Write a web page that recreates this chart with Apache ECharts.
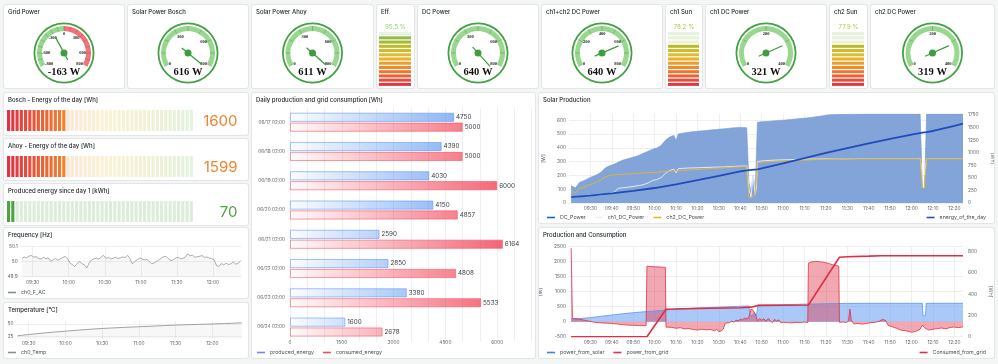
<!DOCTYPE html>
<html>
<head>
<meta charset="utf-8">
<title>Solar dashboard</title>
<script src="https://cdn.jsdelivr.net/npm/echarts@6/dist/echarts.min.js"></script>
<style>
html,body{margin:0;padding:0;}
body{width:998px;height:364px;background:#f4f5f5;position:relative;overflow:hidden;}
.panel{position:absolute;background:#ffffff;box-shadow:0 0 0 1px #e4e5e7;border-radius:2px;}
</style>
</head>
<body>
<script>
// ================= DATA =================
// Gauges
const gaugeTitles = ['Grid Power', 'Solar Power Bosch', 'Solar Power Ahoy', 'DC Power', 'ch1+ch2 DC Power', 'ch1 DC Power', 'ch2 DC Power'];
const gaugeValues = [-163, 616, 611, 640, 640, 321, 319];
const gaugeMin = [-800, 0, 0, 0, 0, 0, 0];
const gaugeMax = [800, 800, 800, 800, 800, 400, 400];
const gaugeNeedleMax = [800, 640, 630, 645, 866, 436, 434];
const gaugeRedFrom = [0, null, null, null, null, null, null];
const gaugeTickLabels = [
  [-800, -600, -300, 0, 300, 600, 800],
  [0, 300, 600, 800], [0, 300, 600, 800], [0, 300, 600, 800],
  [0, 200, 400, 600, 800], [0, 200, 400], [0, 200, 400]
];
// Vertical LCD gauges
const sunTitles = ['Eff.', 'ch1 Sun', 'ch2 Sun'];
const sunValues = [95.5, 78.2, 77.9];
const sunMax = 100;
// Horizontal LCD gauges
const energyTitles = ['Bosch - Energy of the day [Wh]', 'Ahoy - Energy of the day [Wh]', 'Produced energy since day 1 [kWh]'];
const energyValues = [1600, 1599, 70];
const energyMax = [5000, 5000, 1500];
// Daily bars
const dayLabels = ['06/17 02:00', '06/18 02:00', '06/19 02:00', '06/20 02:00', '06/21 02:00', '06/22 02:00', '06/23 02:00', '06/24 02:00'];
const producedEnergy = [4750, 4390, 4030, 4150, 2590, 2850, 3380, 1600];
const consumedEnergy = [5000, 5000, 6000, 4857, 6164, 4808, 5533, 2678];
const barTickLabels = [0, 1500, 3000, 4500, 6000];
// Time ticks (minutes since midnight)
const timeTicks10 = [570, 580, 590, 600, 610, 620, 630, 640, 650, 660, 670, 680, 690, 700, 710, 720, 730, 740];
const timeTicks30 = [570, 600, 630, 660, 690, 720];
// Frequency (one sample every 2 minutes from 09:21)
const freqStart = 561, freqStep = 2;
const freqV = [
  50.022, 50.031, 50.027, 50.038, 50.041, 50.030, 50.034, 50.021, 50.018, 50.029,
  50.020, 50.025, 50.003, 50.012, 50.021, 50.010, 50.019, 50.028, 50.035, 50.022,
  49.992, 49.981, 49.968, 49.988, 50.001, 49.987, 49.979, 49.958, 49.992, 50.012,
  50.019, 50.024, 50.017, 50.031, 50.042, 50.021, 50.029, 50.018, 50.023, 50.030,
  50.021, 50.026, 50.032, 50.027, 50.043, 50.021, 49.986, 50.002, 50.014, 50.025,
  50.019, 50.012, 50.015, 50.003, 49.986, 49.991, 50.002, 50.011, 50.024, 50.033,
  50.036, 50.020, 50.008, 50.013, 50.024, 50.030, 50.019, 50.022, 50.031, 50.052,
  50.040, 50.043, 50.029, 50.034, 50.036, 50.041, 50.028, 50.032, 50.024, 50.021,
  50.013, 49.975, 49.968, 49.988, 49.979, 49.990, 49.981, 49.986, 49.999, 49.984,
  49.988, 50.008
];
const freqTicks = [49.9, 50, 50.1];
// Temperature
const tempT = [561, 570, 580, 590, 600, 610, 620, 630, 640, 650, 660, 670, 680, 690, 700, 710, 720, 730, 740, 744];
const tempV = [27.0, 29.3, 31.8, 34.0, 36.0, 37.9, 39.7, 41.3, 42.5, 43.6, 44.7, 45.8, 46.9, 48.0, 48.7, 49.4, 50.1, 51.0, 52.0, 52.4];
const tempTicks = [25, 50];
// Solar production
const solarT = [
  561, 563, 565, 567, 569, 571, 573, 575, 577, 579, 581, 583, 585, 587, 589, 591, 593, 595, 597, 599, 601, 603, 605, 607, 609,
  610, 611,
  613, 615, 617, 619, 621, 623, 625, 627, 629, 631, 633, 635, 637, 639, 641, 643,
  644, 645, 646, 647, 647.5, 648,
  650, 652, 654, 656, 658, 660, 662, 664, 666, 668, 670, 672, 674, 676, 678, 680, 682, 684,
  688, 692, 696, 700, 704, 708, 712, 716, 720, 724,
  724.5, 725, 726, 726.5, 727,
  730, 734, 738, 742, 744
];
const dcPower = [
  125, 110, 150, 162, 178, 192, 205, 222, 255, 270, 280, 296, 310, 318, 328, 336, 348, 362, 375, 390, 398, 416, 455, 478, 490,
  452, 500,
  506, 511, 515, 519, 521, 524, 527, 530, 533, 536, 539, 542, 545, 547, 548, 545,
  150, 80, 200, 105, 110, 585,
  589, 591, 593, 596, 598, 600, 603, 606, 609, 612, 615, 618, 622, 626, 631, 636, 640, 642,
  643, 644, 645, 645, 645, 645, 645, 645, 645, 645,
  645, 108, 108, 108, 645,
  645, 645, 645, 645, 645
];
const ch1Power = [
  42, 44, 47, 49, 51, 53, 55, 58, 62, 68, 78, 106, 110, 113, 118, 122, 127, 134, 146, 163, 170, 184, 214, 236, 245,
  218, 249,
  251, 253, 254, 255, 256, 257, 258, 259, 260, 261, 262, 264, 265, 267, 268, 269,
  108, 45, 199, 60, 108, 300,
  305, 307, 309, 311, 312, 313, 314, 315, 316, 317, 318, 318, 319, 319, 320, 321, 321, 321,
  320, 321, 322, 322, 322, 322, 322, 322, 322, 322,
  322, 204, 204, 204, 322,
  322, 322, 322, 322, 322
];
const ch2Power = [
  85, 72, 105, 115, 128, 140, 152, 168, 190, 200, 204, 206, 208, 210, 212, 214, 216, 218, 220, 222, 224, 226, 228, 230, 232,
  233, 234,
  236, 238, 240, 242, 244, 246, 248, 250, 252, 254, 256, 258, 260, 262, 264, 266,
  40, 36, 48, 58, 60, 292,
  296, 298, 300, 301, 302, 304, 305, 306, 307, 309, 310, 312, 314, 316, 318, 319, 320, 321,
  322, 322, 322, 322, 322, 322, 322, 322, 322, 322,
  322, 108, 108, 108, 322,
  322, 322, 322, 322, 322
];
const energyT = [561, 570, 580, 590, 600, 610, 620, 630, 640, 644, 648, 650, 660, 670, 680, 690, 700, 710, 720, 725, 727, 730, 740, 744];
const energyV = [115, 148, 190, 240, 298, 372, 455, 540, 628, 655, 668, 688, 790, 892, 995, 1092, 1185, 1275, 1362, 1398, 1408, 1432, 1535, 1580];
const solarLeftTicks = [0, 100, 200, 300, 400, 500, 600];
const solarRightTicks = [0, 250, 500, 750, 1000, 1250, 1500, 1750];
// Production and consumption
const pSolarT = [561, 565, 570, 575, 580, 585, 590, 595, 600, 605, 610, 615, 620, 625, 630, 635, 640,
  644, 644.5, 645.5, 646.5, 647.5, 648, 648.3,
  650, 655, 660, 665, 670, 675, 680, 685, 690, 700, 710, 720,
  725, 725.3, 726.5, 726.8, 730, 735, 740, 744];
const pSolarV = [90, 105, 135, 180, 222, 262, 300, 330, 356, 390, 420, 440, 460, 470, 485, 500, 515,
  522, 260, 180, 300, 200, 230, 552,
  556, 560, 567, 575, 585, 592, 600, 605, 610, 612, 613, 614,
  614, 200, 200, 614, 614, 614, 614, 614];
const pGridT = [
  561, 561.6, 565, 568, 570, 572, 575, 578, 580, 583,
  585, 587, 590, 593, 596, 596.4, 598, 600, 602, 605,
  605.3, 606, 608, 610, 612, 614, 616, 618, 620, 622,
  624, 626, 628, 629, 630, 631, 632, 633, 635, 636,
  637, 638, 639, 640, 641, 642, 643, 644, 645, 646,
  647, 647.5, 648, 649, 650, 651, 652, 653, 654, 655,
  656, 657, 658, 659, 660, 662, 664, 666, 668, 670,
  671.5, 671.8, 673, 675, 677, 679, 681, 683, 685, 686,
  686.3, 688, 689.5, 690.5, 691.2, 691.8, 693, 695, 697, 699,
  701, 703, 705, 706.5, 708, 709, 711, 713, 715, 717,
  719, 720, 722, 724, 725, 726, 728, 730, 732, 734,
  736, 738, 740, 742, 744
];
const pGridV = [
  2450, 110, 80, 40, 10, -20, -40, -50, -60, -80,
  -100, -110, -120, -130, -135, 1850, 1840, 1830, 1825, 1810,
  -180, -200, -190, -220, -200, -240, -230, -260, -280, -250,
  -270, -260, -300, -260, -330, -310, -250, -50, -30, 20,
  -20, 50, 30, 80, 60, 120, 100, 150, 420, 380,
  250, 160, 30, 100, 50, 100, 20, 110, 40, -30,
  80, 20, 60, -40, -20, -30, -40, -20, -30, -10,
  -30, 1950, 1990, 2010, 2000, 1980, 1950, 1900, 1870, 1850,
  -20, -10, -30, 30, 420, 50, -70, -60, -80, -60,
  -30, -20, 20, 80, 30, -120, -170, -220, -280, -300,
  -330, -355, -320, -250, -110, -200, -280, -250, -230, -210,
  -240, -190, -180, -200, -170
];
const consumedT = [561, 596.4, 605.3, 620, 640, 645, 648.5, 671.8, 686.3, 690, 700, 706, 744];
const consumedV = [0, 0, 258, 265, 272, 278, 295, 298, 748, 752, 758, 762, 762];
const prodLeftTicks = [-500, 0, 500, 1000, 1500, 2000, 2500];
const prodRightTicks = [0, 200, 400, 600, 800];

// ================= STYLE / HELPERS =================
const FONT = 'Inter, "Noto Sans", sans-serif';
const SERIF = '"Liberation Serif", "DejaVu Serif", serif';
const TXT = '#25292e', AX = '#61656a', GRID = '#ebebed';
const LCD_STOPS = [[0, [224, 47, 68]], [0.33, [242, 135, 46]], [0.55, [232, 190, 42]], [0.8, [168, 185, 47]], [1, [115, 191, 105]]];

function lcdColor(f, a) {
  let i = 0;
  while (i < LCD_STOPS.length - 2 && f > LCD_STOPS[i + 1][0]) i++;
  const [f0, c0] = LCD_STOPS[i], [f1, c1] = LCD_STOPS[i + 1];
  const t = Math.max(0, Math.min(1, (f - f0) / (f1 - f0)));
  const c = c0.map((v, j) => Math.round(v + (c1[j] - v) * t));
  return 'rgba(' + c[0] + ',' + c[1] + ',' + c[2] + ',' + a + ')';
}
const greenLcd = (f, a) => 'rgba(79,163,69,' + a + ')';
const hm = v => String(Math.floor(v / 60)).padStart(2, '0') + ':' + String(Math.round(v % 60)).padStart(2, '0');
const zip = (a, b) => a.map((t, i) => [t, b[i]]);
const plain = v => String(+(+v).toFixed(2));

function mkChart(x, y, w, h) {
  const d = document.createElement('div');
  d.className = 'panel';
  d.style.left = x + 'px'; d.style.top = y + 'px';
  d.style.width = w + 'px'; d.style.height = h + 'px';
  document.body.appendChild(d);
  return echarts.init(d, null, {renderer: 'canvas', width: w, height: h});
}
function titleOf(text) {
  return {text: text, left: 4, top: 4, padding: 0,
    textStyle: {fontSize: 6, fontWeight: 500, color: TXT, fontFamily: FONT}};
}
const legendText = {fontSize: 5.3, color: '#4a4e53', fontFamily: FONT};
function legendOf(names, side, extra) {
  return Object.assign({data: names, icon: 'rect', itemWidth: 8, itemHeight: 1.6, itemGap: 9,
    padding: 0, bottom: 3, selectedMode: false, textStyle: legendText}, side, extra || {});
}
function axLabel(ticks, margin, fmt) {
  return {customValues: ticks, formatter: fmt || plain, fontSize: 4.8, color: AX, margin: margin, fontFamily: FONT};
}
function xTime(ticks) {
  return {type: 'value', min: 560, max: 744,
    axisLine: {show: false}, axisTick: {show: false, customValues: ticks},
    axisLabel: axLabel(ticks, 3, hm),
    splitLine: {show: true, lineStyle: {color: GRID, width: 0.8}}};
}
function yVal(ticks, margin, o) {
  return Object.assign({type: 'value', axisLine: {show: false},
    axisTick: {show: false, customValues: ticks},
    splitLine: {show: true, lineStyle: {color: GRID, width: 0.8}},
    axisLabel: axLabel(ticks, margin)}, o);
}
const axisName = {fontSize: 5, color: AX, fontFamily: FONT};

// ================= GAUGES =================
function gaugeOpt(i, w) {
  const min = gaugeMin[i], max = gaugeMax[i];
  const cx = w / 2, cy = 48;
  const labels = gaugeTickLabels[i];
  const red = gaugeRedFrom[i];
  const band = red == null ? [[1, '#97d78e']] : [[(red - min) / (max - min), '#97d78e'], [1, '#f4707d']];
  return {
    animation: false,
    title: titleOf(gaugeTitles[i]),
    series: [
      {type: 'gauge', center: [cx, cy], radius: 30.5, startAngle: 90, endAngle: -270, min: 0, max: 1, splitNumber: 1,
        axisLine: {lineStyle: {width: 1.8, color: [[1, '#45a145']]}},
        splitLine: {show: false}, axisTick: {show: false}, axisLabel: {show: false},
        pointer: {show: false}, anchor: {show: false}, progress: {show: false},
        title: {show: false}, detail: {show: false}, data: [{value: 0}]},
      {type: 'gauge', center: [cx, cy], radius: 27, startAngle: 210, endAngle: -30, min: min, max: max,
        splitNumber: Math.round((max - min) / 100),
        axisLine: {lineStyle: {width: 5, color: band}},
        splitLine: {show: true, length: 5, distance: -5, lineStyle: {color: 'rgba(46,120,46,0.45)', width: 0.7}},
        axisTick: {show: false},
        axisLabel: {show: true, distance: 5, fontSize: 4.5, fontWeight: 'bold', fontFamily: SERIF, color: '#222',
          formatter: v => labels.includes(Math.round(v)) ? String(Math.round(v)) : ''},
        pointer: {show: false}, anchor: {show: false}, title: {show: false},
        detail: {show: true, offsetCenter: [0, 19], formatter: '{value} W', fontSize: 10.5, fontWeight: 'bold',
          fontFamily: SERIF, color: '#111'},
        data: [{value: gaugeValues[i]}]},
      {type: 'gauge', center: [cx, cy], radius: 27, startAngle: 230, endAngle: -50, min: min, max: gaugeNeedleMax[i],
        axisLine: {show: false}, splitLine: {show: false}, axisTick: {show: false}, axisLabel: {show: false},
        title: {show: false}, detail: {show: false},
        pointer: {show: true, icon: 'rect', length: 26, width: 1.3, offsetCenter: [0, 8], itemStyle: {color: '#3f9c3f'}},
        anchor: {show: true, showAbove: true, size: 7, itemStyle: {color: '#3f9c3f'}},
        data: [{value: gaugeValues[i]}]}
    ]
  };
}

function sunOpt(k, w) {
  const v = sunValues[k], cells = 13, step = sunMax / cells;
  return {
    animation: false,
    title: titleOf(sunTitles[k]),
    grid: {left: 2, right: 3, top: 26.5, bottom: 1.5, outerBoundsMode: 'none'},
    xAxis: {type: 'value', min: 0, max: 1, show: false},
    yAxis: {type: 'value', min: 0, max: sunMax, show: false},
    graphic: [{type: 'text', x: w / 2, y: 21.7,
      style: {text: v.toFixed(1) + ' %', fontSize: 6.3, fill: lcdColor(v / sunMax, 0.85), fontFamily: FONT,
        align: 'center', verticalAlign: 'middle'}}],
    series: [{type: 'custom', silent: true,
      data: Array.from({length: cells}, (_, i) => [i]),
      renderItem: (p, api) => {
        const i = api.value(0);
        const a = api.coord([0, (i + 1) * step]);
        const b = api.coord([1, i * step]);
        const lit = (i + 0.5) * step < v;
        return {type: 'rect', shape: {x: a[0], y: a[1] + 0.6, width: b[0] - a[0], height: b[1] - a[1] - 1.2},
          style: {fill: lcdColor((i + 0.5) / cells, lit ? 1 : 0.2)}};
      }}]
  };
}

function energyOpt(k, w) {
  const v = energyValues[k], max = energyMax[k], cells = 44, step = max / cells;
  const colorFn = k === 2 ? greenLcd : lcdColor;
  return {
    animation: false,
    title: titleOf(energyTitles[k]),
    grid: {left: 3, right: 54, top: 17, height: 21, outerBoundsMode: 'none'},
    xAxis: {type: 'value', min: 0, max: max, show: false},
    yAxis: {type: 'value', min: 0, max: 1, show: false},
    graphic: [{type: 'text', x: w - 10.5, y: 28,
      style: {text: String(v), fontSize: 15, fill: colorFn(v / max, 1), fontFamily: FONT,
        align: 'right', verticalAlign: 'middle'}}],
    series: [{type: 'custom', silent: true,
      data: Array.from({length: cells}, (_, i) => [i]),
      renderItem: (p, api) => {
        const i = api.value(0);
        const a = api.coord([i * step, 1]);
        const b = api.coord([(i + 1) * step, 0]);
        const lit = (i + 0.5) * step < v;
        return {type: 'rect', shape: {x: a[0], y: a[1], width: b[0] - a[0] - 1.1, height: b[1] - a[1]},
          style: {fill: colorFn((i + 0.5) / cells, lit ? 1 : 0.2)}};
      }}]
  };
}

// ================= BUILD =================
const topRow = [['g', 0, 4, 120], ['g', 1, 128, 120], ['g', 2, 252, 121], ['s', 0, 377, 37], ['g', 3, 418, 120],
  ['g', 4, 542, 120], ['s', 1, 666, 36], ['g', 5, 706, 120], ['s', 2, 830, 37], ['g', 6, 871, 123]];
topRow.forEach(([t, k, x, w]) => {
  const c = mkChart(x, 5, w, 83);
  c.setOption(t === 'g' ? gaugeOpt(k, w) : sunOpt(k, w));
});

[[93, 42], [139, 41], [184, 41]].forEach(([y, h], k) => {
  mkChart(4, y, 244, h).setOption(energyOpt(k, 244));
});

// Frequency
mkChart(4, 228, 244, 70).setOption({
  animation: false,
  title: titleOf('Frequency [Hz]'),
  grid: {left: 16.7, right: 6.3, top: 18.7, bottom: 21.3, outerBoundsMode: 'none'},
  xAxis: xTime(timeTicks30),
  yAxis: yVal(freqTicks, 3, {min: 49.9, max: 50.1}),
  legend: legendOf(['ch0_F_AC'], {left: 4}),
  series: [{name: 'ch0_F_AC', type: 'line', symbol: 'none', itemStyle: {color: '#8c8c8c'},
    lineStyle: {width: 0.7, color: '#8c8c8c'}, areaStyle: {color: 'rgba(140,140,140,0.1)'},
    data: freqV.map((v, i) => [freqStart + i * freqStep, v])}]
});

// Temperature
mkChart(4, 303, 244, 55).setOption({
  animation: false,
  title: titleOf('Temperature [°C]'),
  grid: {left: 12.5, right: 6.3, top: 18, bottom: 19.5, outerBoundsMode: 'none'},
  xAxis: xTime(timeTicks30),
  yAxis: yVal(tempTicks, 3, {min: 21.5, max: 56}),
  legend: legendOf(['ch0_Temp'], {left: 4}),
  series: [{name: 'ch0_Temp', type: 'line', symbol: 'none', itemStyle: {color: '#8c8c8c'},
    lineStyle: {width: 0.8, color: '#8c8c8c'}, areaStyle: {color: 'rgba(140,140,140,0.1)'},
    data: zip(tempT, tempV)}]
});

// Daily bars
const BAR_MAX = 7000;
function barItem(v, rgb) {
  const a = Math.min(0.95, 0.1 + 0.85 * v / BAR_MAX);
  return {value: v, itemStyle: {
    color: new echarts.graphic.LinearGradient(0, 0, 1, 0, [{offset: 0, color: 'rgba(' + rgb + ',0.02)'}, {offset: 1, color: 'rgba(' + rgb + ',' + a + ')'}]),
    borderColor: 'rgba(' + rgb + ',0.7)', borderWidth: 0.8}};
}
mkChart(252, 93, 283, 265).setOption({
  animation: false,
  title: titleOf('Daily production and grid consumption [Wh]'),
  grid: {left: 38, right: 3.3, top: 14.6, bottom: 16.3, outerBoundsMode: 'none'},
  xAxis: {type: 'value', min: 0, max: BAR_MAX, interval: 500,
    axisLine: {show: false}, axisTick: {show: false},
    axisLabel: {formatter: v => barTickLabels.includes(v) ? String(v) : '', fontSize: 4.8, color: AX, margin: -1.5, fontFamily: FONT},
    splitLine: {show: true, lineStyle: {color: GRID, width: 0.8}}},
  yAxis: {type: 'category', data: dayLabels, inverse: true,
    axisLine: {show: false}, axisTick: {show: false},
    axisLabel: {fontSize: 4.7, color: AX, margin: 5, fontFamily: FONT}},
  legend: legendOf(['produced_energy', 'consumed_energy'], {left: 5}),
  series: [
    {name: 'produced_energy', type: 'bar', barWidth: 9, barGap: '10%', itemStyle: {color: '#5794f2'},
      label: {show: true, position: 'right', distance: 2, fontSize: 6.3, color: '#3b4046', fontFamily: FONT},
      data: producedEnergy.map(v => barItem(v, '87,148,242'))},
    {name: 'consumed_energy', type: 'bar', barWidth: 9, barGap: '10%', itemStyle: {color: '#f2495c'},
      label: {show: true, position: 'right', distance: 2, fontSize: 6.3, color: '#3b4046', fontFamily: FONT},
      data: consumedEnergy.map(v => barItem(v, '242,73,92'))}
  ]
});

// Solar production
mkChart(539, 93, 455, 130).setOption({
  animation: false,
  title: titleOf('Solar Production'),
  grid: {left: 30, right: 31, top: 21, bottom: 20, outerBoundsMode: 'none'},
  xAxis: xTime(timeTicks10),
  yAxis: [
    yVal(solarLeftTicks, 3, {min: 0, max: 645, name: '[W]', nameLocation: 'middle', nameGap: 21, nameRotate: 90,
      nameTextStyle: axisName}),
    yVal(solarRightTicks, 5, {min: 0, max: 1770, position: 'right', name: '[Wh]', nameLocation: 'middle', nameGap: 24,
      nameRotate: -90, nameTextStyle: axisName, splitLine: {show: false}})
  ],
  legend: [legendOf(['DC_Power', 'ch1_DC_Power', 'ch2_DC_Power'], {left: 8}),
           legendOf(['energy_of_the_day'], {right: 8})],
  series: [
    {name: 'DC_Power', type: 'line', symbol: 'none', itemStyle: {color: '#1f60c4'},
      lineStyle: {width: 0.6, color: '#7397d3'}, areaStyle: {color: '#7fa1d7', opacity: 0.97},
      data: zip(solarT, dcPower)},
    {name: 'ch1_DC_Power', type: 'line', symbol: 'none', itemStyle: {color: '#eef2fa'},
      lineStyle: {width: 0.9, color: '#eef2fa'}, data: zip(solarT, ch1Power)},
    {name: 'ch2_DC_Power', type: 'line', symbol: 'none', itemStyle: {color: '#e7b52c'},
      lineStyle: {width: 0.9, color: '#e7b52c'}, data: zip(solarT, ch2Power)},
    {name: 'energy_of_the_day', type: 'line', symbol: 'none', yAxisIndex: 1, itemStyle: {color: '#1f4fbf'},
      lineStyle: {width: 1.8, color: '#1e4cba'}, data: zip(energyT, energyV)}
  ]
});

// Production and consumption
mkChart(539, 228, 455, 130).setOption({
  animation: false,
  title: titleOf('Production and Consumption'),
  grid: {left: 30, right: 31, top: 18.7, bottom: 21.3, outerBoundsMode: 'none'},
  xAxis: xTime(timeTicks10),
  yAxis: [
    yVal(prodLeftTicks, 3, {min: -500, max: 2500, name: '[W]', nameLocation: 'middle', nameGap: 21, nameRotate: 90,
      nameTextStyle: axisName}),
    yVal(prodRightTicks, 5, {min: 0, max: 847, position: 'right', name: '[Wh]', nameLocation: 'middle', nameGap: 24,
      nameRotate: -90, nameTextStyle: axisName, splitLine: {show: false}})
  ],
  legend: [legendOf(['power_from_solar', 'power_from_grid'], {left: 8}),
           legendOf(['Consumed_from_grid'], {right: 8})],
  series: [
    {name: 'power_from_solar', type: 'line', symbol: 'none', itemStyle: {color: '#3d7fe0'},
      lineStyle: {width: 0.8, color: '#5794f2'}, areaStyle: {color: '#5794f2', opacity: 0.5},
      data: zip(pSolarT, pSolarV)},
    {name: 'power_from_grid', type: 'line', symbol: 'none', itemStyle: {color: '#e02f44'},
      lineStyle: {width: 0.8, color: '#e02f44'}, areaStyle: {color: '#e02f44', opacity: 0.42},
      data: zip(pGridT, pGridV)},
    {name: 'Consumed_from_grid', type: 'line', symbol: 'none', yAxisIndex: 1, itemStyle: {color: '#e02f44'},
      lineStyle: {width: 1.6, color: '#e02f44'}, data: zip(consumedT, consumedV)}
  ]
});
</script>
</body>
</html>
